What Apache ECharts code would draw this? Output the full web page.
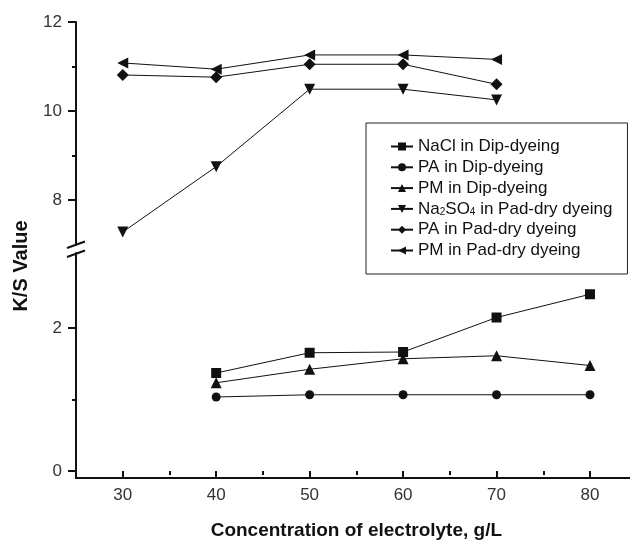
<!DOCTYPE html>
<html><head><meta charset="utf-8">
<script src="https://cdn.jsdelivr.net/npm/echarts@6/dist/echarts.min.js"></script>
<style>html,body{margin:0;padding:0;background:#fff}#c{width:630px;height:541px}</style>
</head><body><div id="c"></div>
<script>
const seriesNames = ['NaCl in Dip-dyeing','PA in Dip-dyeing','PM in Dip-dyeing','Na2SO4 in Pad-dry dyeing','PA in Pad-dry dyeing','PM in Pad-dry dyeing'];
const xDip = [40, 50, 60, 70, 80];
const xPad = [30, 40, 50, 60, 70];
const naclDip = [1.40, 1.67, 1.68, 2.14, 2.45];
const paDip   = [1.08, 1.11, 1.11, 1.11, 1.11];
const pmDip   = [1.27, 1.45, 1.59, 1.63, 1.50];
const na2so4Pad = [7.28, 8.75, 10.49, 10.49, 10.25];
const paPad   = [10.81, 10.76, 11.05, 11.05, 10.60];
const pmPad   = [11.08, 10.94, 11.26, 11.26, 11.16];
const yTicksUpper = [8, 10, 12];
const yTicksLower = [0, 2];
const xTicks = [30, 40, 50, 60, 70, 80];
const xRange = [25, 84.28];

const FONT = 'Liberation Sans, Arial, sans-serif';
const pair = (xs, ys) => xs.map((x, i) => [x, ys[i]]);
const black = '#111';

function mkSeries(name, xs, ys, symbol, size, rot, idx) {
  return {
    name, type: 'line', data: pair(xs, ys), xAxisIndex: idx, yAxisIndex: idx,
    symbol, symbolSize: size, symbolRotate: rot, showSymbol: true,
    lineStyle: { color: black, width: 1 }, itemStyle: { color: black },
    emphasis: { disabled: true }, animation: false
  };
}
const X0 = 76;
const chart = echarts.init(document.getElementById('c'));
chart.setOption({
  animation: false,
  backgroundColor: '#fff',
  grid: [
    { left: X0, right: 0, top: 22, height: 222.5 },
    { left: X0, right: 0, top: 253, height: 225 },
    { left: X0, right: 0, top: 22, height: 178 },
    { left: 122.7, width: 467.3, top: 328, height: 150 }
  ],
  xAxis: [
    { type: 'value', gridIndex: 0, min: xRange[0], max: xRange[1], show: false },
    { type: 'value', gridIndex: 1, min: xRange[0], max: xRange[1],
      axisLine: { lineStyle: { color: black, width: 2 } }, axisTick: { show: false },
      axisLabel: { show: false }, splitLine: { show: false } },
    { type: 'value', gridIndex: 2, min: xRange[0], max: xRange[1], show: false },
    { type: 'value', gridIndex: 3, min: xTicks[0], max: xTicks[xTicks.length-1], interval: 10,
      axisLine: { show: false },
      axisTick: { length: 8, lineStyle: { color: black, width: 2 } },
      minorTick: { show: true, splitNumber: 2, length: 4, lineStyle: { color: black, width: 2 } },
      axisLabel: { fontFamily: FONT, fontSize: 17, color: '#333', margin: 16 },
      splitLine: { show: false }, minorSplitLine: { show: false },
      name: 'Concentration of electrolyte, g/L', nameLocation: 'middle', nameGap: 50,
      nameTextStyle: { fontFamily: FONT, fontSize: 19, fontWeight: 'bold', color: black } }
  ],
  yAxis: [
    { type: 'value', gridIndex: 0, min: 7, max: 12,
      axisLine: { show: true, lineStyle: { color: black, width: 2 } }, axisTick: { show: false },
      axisLabel: { show: false }, splitLine: { show: false } },
    { type: 'value', gridIndex: 1, min: 0, max: 3,
      axisLine: { show: true, lineStyle: { color: black, width: 2 } }, axisTick: { show: false },
      axisLabel: { show: false }, splitLine: { show: false } },
    { type: 'value', gridIndex: 2, min: yTicksUpper[0], max: yTicksUpper[yTicksUpper.length-1], interval: 2,
      axisLine: { show: false },
      axisTick: { show: true, length: 8, lineStyle: { color: black, width: 2 } },
      minorTick: { show: true, splitNumber: 2, length: 4, lineStyle: { color: black, width: 2 } },
      axisLabel: { fontFamily: FONT, fontSize: 17, color: '#333', margin: 14 },
      splitLine: { show: false }, minorSplitLine: { show: false } },
    { type: 'value', gridIndex: 3, min: yTicksLower[0], max: yTicksLower[yTicksLower.length-1], interval: 2, offset: 46.7,
      axisLine: { show: false },
      axisTick: { show: true, length: 8, lineStyle: { color: black, width: 2 } },
      minorTick: { show: true, splitNumber: 2, length: 4, lineStyle: { color: black, width: 2 } },
      axisLabel: { fontFamily: FONT, fontSize: 17, color: '#333', margin: 14 },
      splitLine: { show: false }, minorSplitLine: { show: false } }
  ],
  legend: {
    orient: 'vertical', left: 366, top: 123,
    padding: [15, 15, 15, 24], itemGap: 3.8, itemWidth: 22, itemHeight: 10,
    borderColor: '#222', borderWidth: 1,
    data: seriesNames,
    formatter: n => n.startsWith('Na2SO4') ? '{t|Na}{s|2}{t|SO}{s|4}{t| in Pad-dry dyeing}' : n,
    textStyle: { fontFamily: FONT, fontSize: 17, color: black, lineHeight: 16,
      rich: { t: { fontFamily: FONT, fontSize: 17, color: black, lineHeight: 16 },
              s: { fontFamily: FONT, fontSize: 10, color: black, lineHeight: 16, padding: [7, 0, 0, 0] } } }
  },
  graphic: [
    { type: 'line', shape: { x1: 67, y1: 248, x2: 85, y2: 241.5 }, style: { stroke: black, lineWidth: 2 } },
    { type: 'line', shape: { x1: 67, y1: 257, x2: 85, y2: 250.5 }, style: { stroke: black, lineWidth: 2 } },
    { type: 'text', x: 21, y: 266, rotation: Math.PI / 2,
      style: { text: 'K/S Value', font: 'bold 20px ' + FONT, fill: black, align: 'center', verticalAlign: 'middle' } }
  ],
  series: [
    mkSeries(seriesNames[0], xDip, naclDip, 'rect', 10, 0, 1),
    mkSeries(seriesNames[1], xDip, paDip, 'circle', 9, 0, 1),
    mkSeries(seriesNames[2], xDip, pmDip, 'triangle', 11, 0, 1),
    mkSeries(seriesNames[3], xPad, na2so4Pad, 'triangle', 11, 180, 0),
    mkSeries(seriesNames[4], xPad, paPad, 'diamond', 12, 0, 0),
    mkSeries(seriesNames[5], xPad, pmPad, 'triangle', 11, 90, 0)
  ]
});
</script></body></html>
